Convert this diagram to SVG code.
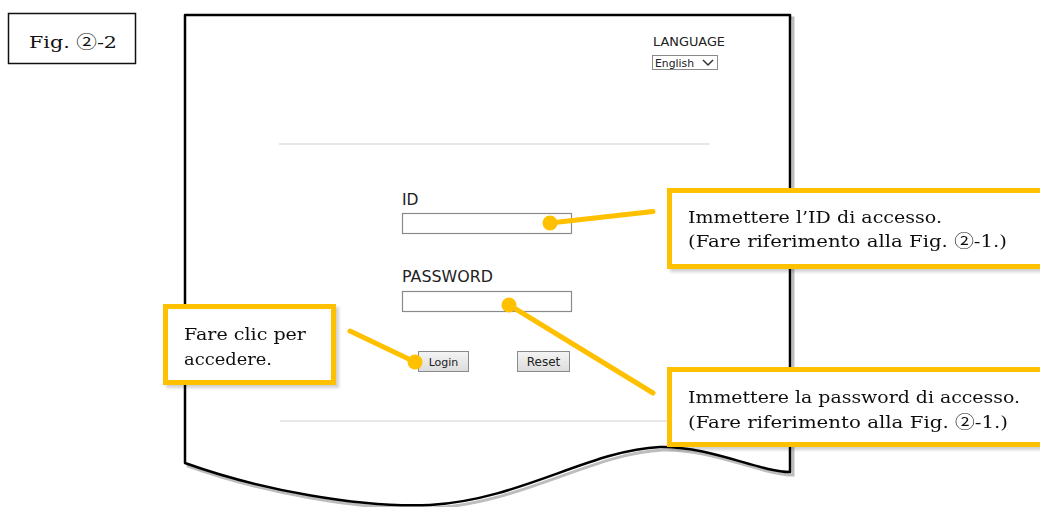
<svg xmlns="http://www.w3.org/2000/svg" width="1040" height="507" viewBox="0 0 1040 507">
<style>
.serif{font-family:"DejaVu Serif","Noto Sans CJK JP",serif;font-size:17px;fill:#111}
.ui{font-family:"DejaVu Sans","Noto Sans CJK JP",sans-serif;fill:#222}
.callout{fill:#fff;stroke:#FFC000;stroke-width:5}
.conn{stroke:#FFC000;stroke-width:5;stroke-linecap:round;fill:none}
.dot{fill:#FFC000}
.input{fill:#fff;stroke:#8a8a8a;stroke-width:1.2}
.btn{fill:url(#btnGrad);stroke:#8a8a8a;stroke-width:1}
.sep{stroke:#cfcfcf;stroke-width:1.2}
</style>
<defs>
<linearGradient id="btnGrad" x1="0" y1="0" x2="0" y2="1">
<stop offset="0" stop-color="#f4f4f4"/>
<stop offset="1" stop-color="#dcdcdc"/>
</linearGradient>
<filter id="soft" x="-5%" y="-5%" width="115%" height="115%">
<feDropShadow dx="3" dy="3" stdDeviation="1.5" flood-color="#000" flood-opacity="0.18"/>
</filter>
</defs>
<rect width="1040" height="507" fill="#fff"/>

<g id="fig-label">
<rect x="8.5" y="13.5" width="127" height="50" fill="#fff" stroke="#111" stroke-width="1.5"/>
<text class="serif" x="29" y="48" textLength="88" lengthAdjust="spacingAndGlyphs">Fig. ②-2</text>
</g>

<g id="page">
<path d="M188,18 L793,18 L793,475 C763,475 713,449 663,450 C593,453 523,503 433,508 C363,511 263,493 188,466 Z" fill="none" stroke="#bdbdbd" stroke-width="3"/>
<path d="M185,15 L790,15 L790,472 C760,472 710,446 660,447 C590,450 520,500 430,505 C360,508 260,490 185,463 Z" fill="#fff" stroke="#000" stroke-width="2.5" stroke-linejoin="round"/>
<line class="sep" x1="279" y1="144" x2="710" y2="144"/>
<line class="sep" x1="280" y1="421" x2="710" y2="421"/>
</g>

<g id="language">
<text class="ui" x="653" y="46" font-size="12" textLength="72" lengthAdjust="spacingAndGlyphs">LANGUAGE</text>
<rect x="652.5" y="55.5" width="65" height="14" fill="#fff" stroke="#8a8a8a" stroke-width="1"/>
<text class="ui" x="655" y="66.5" font-size="11" textLength="39" lengthAdjust="spacingAndGlyphs">English</text>
<path d="M703,60 L708,65 L713,60" fill="none" stroke="#333" stroke-width="1.5"/>
</g>

<g id="id-field">
<text class="ui" x="402" y="205" font-size="15.5">ID</text>
<rect class="input" x="402.5" y="213.5" width="169" height="20"/>
</g>

<g id="password-field">
<text class="ui" x="402" y="282" font-size="15.5" textLength="91" lengthAdjust="spacingAndGlyphs">PASSWORD</text>
<rect class="input" x="402.5" y="291.5" width="169" height="20"/>
</g>

<g id="login-button">
<rect class="btn" x="418.5" y="351.5" width="50" height="20"/>
<text class="ui" x="443.5" y="366" font-size="11" text-anchor="middle">Login</text>
</g>

<g id="reset-button">
<rect class="btn" x="517.5" y="351.5" width="52" height="20"/>
<text class="ui" x="543.5" y="366" font-size="12" text-anchor="middle">Reset</text>
</g>

<g id="connectors">
<line class="conn" x1="550" y1="223" x2="653" y2="211.5"/>
<circle class="dot" cx="550" cy="223" r="7.5"/>
<line class="conn" x1="509" y1="305" x2="653" y2="393"/>
<circle class="dot" cx="509" cy="305" r="7.5"/>
<line class="conn" x1="415" y1="362" x2="350" y2="331"/>
<circle class="dot" cx="415" cy="362" r="7.5"/>
</g>

<g id="callout-id" filter="url(#soft)">
<rect class="callout" x="669.5" y="190.5" width="400" height="76"/>
<text class="serif" x="688" y="223" textLength="254" lengthAdjust="spacingAndGlyphs">Immettere l’ID di accesso.</text>
<text class="serif" x="688" y="247" textLength="319" lengthAdjust="spacingAndGlyphs">(Fare riferimento alla Fig. ②-1.)</text>
</g>

<g id="callout-password" filter="url(#soft)">
<rect class="callout" x="669.5" y="369.5" width="400" height="75"/>
<text class="serif" x="688" y="403" textLength="332" lengthAdjust="spacingAndGlyphs">Immettere la password di accesso.</text>
<text class="serif" x="688" y="428" textLength="320" lengthAdjust="spacingAndGlyphs">(Fare riferimento alla Fig. ②-1.)</text>
</g>

<g id="callout-login" filter="url(#soft)">
<rect class="callout" x="165.5" y="306.5" width="168" height="76"/>
<text class="serif" x="184" y="340" textLength="122" lengthAdjust="spacingAndGlyphs">Fare clic per</text>
<text class="serif" x="184" y="365" textLength="88" lengthAdjust="spacingAndGlyphs">accedere.</text>
</g>
</svg>
